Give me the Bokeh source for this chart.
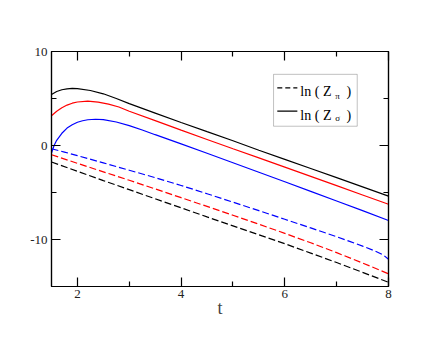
from bokeh.plotting import figure
from bokeh.models import (Range1d, FixedTicker, LinearAxis, CustomJSTickFormatter,
                          BoxAnnotation, Label)
from bokeh.embed import file_html
from bokeh.resources import INLINE

# ---- data ----
t_black = [1.5, 1.6, 1.7, 1.8, 1.9, 2.0, 2.25, 2.5, 2.75, 3.0, 3.5, 4.0, 4.5, 5.0, 5.5, 6.0, 6.5, 7.0, 7.5, 8.0]
sig_black = [5.43, 5.75, 5.93, 6.03, 6.07, 6.05, 5.85, 5.5, 5.0, 4.45, 3.45, 2.45, 1.47, 0.5, -0.5, -1.47, -2.45, -3.42, -4.4, -5.38]

t_red = [1.5, 1.6, 1.7, 1.8, 1.9, 2.0, 2.2, 2.4, 2.6, 2.8, 3.0, 3.5, 4.0, 4.5, 5.0, 5.5, 6.0, 6.5, 7.0, 7.5, 8.0]
sig_red = [3.17, 3.65, 4.02, 4.3, 4.5, 4.63, 4.72, 4.62, 4.4, 4.1, 3.65, 2.65, 1.63, 0.64, -0.35, -1.32, -2.3, -3.28, -4.27, -5.26, -6.25]

t_blue = [1.5, 1.55, 1.6, 1.7, 1.8, 1.9, 2.0, 2.1, 2.2, 2.35, 2.5, 2.75, 3.0, 3.25, 3.5, 4.0, 4.5, 5.0, 5.5, 6.0, 6.5, 7.0, 7.5, 8.0]
sig_blue = [-0.8, 0.0, 0.55, 1.3, 1.85, 2.2, 2.47, 2.63, 2.74, 2.79, 2.75, 2.5, 2.12, 1.65, 1.15, 0.17, -0.83, -1.84, -2.85, -3.86, -4.88, -5.9, -6.93, -7.98]

t_pi_blue = [1.5, 1.75, 2.0, 2.5, 3.0, 3.5, 4.0, 4.5, 5.0, 5.5, 6.0, 6.5, 7.0, 7.25, 7.5, 7.75, 7.9, 8.0]
pi_blue = [-0.35, -0.7, -1.08, -1.85, -2.63, -3.42, -4.25, -5.13, -6.03, -6.93, -7.85, -8.77, -9.7, -10.2, -10.7, -11.25, -11.65, -12.1]

t_pi = [1.5, 2.0, 2.5, 3.0, 3.5, 4.0, 4.5, 5.0, 5.5, 6.0, 6.5, 7.0, 7.5, 8.0]
pi_red = [-0.98, -1.9, -2.8, -3.7, -4.62, -5.55, -6.48, -7.42, -8.37, -9.35, -10.35, -11.4, -12.5, -13.65]
pi_black = [-1.76, -2.75, -3.73, -4.7, -5.67, -6.63, -7.6, -8.55, -9.5, -10.45, -11.45, -12.45, -13.5, -14.55]

x_major = [2, 4, 6, 8]
x_minor = [3, 5, 7]
y_major = [-10, 0, 10]
y_minor = [-5, 5]
y_tick_labels = ["-10", "0", "10"]

legend_labels = ["ln ( Z", "ln ( Z"]
legend_subs = ["\u03c0", "\u03c3"]

FONT = "Times New Roman"
LW = 1.2
DASH = "7 3"

p = figure(frame_width=337, frame_height=235, output_backend="svg",
           toolbar_location=None, x_range=Range1d(1.5, 8), y_range=Range1d(-15, 10),
           min_border_left=51, min_border_top=51, min_border_right=40, min_border_bottom=44)
p.background_fill_color = "white"
p.border_fill_color = "white"
p.xgrid.visible = False
p.ygrid.visible = False
p.outline_line_color = "black"
p.outline_line_width = 1.2

def style_axis(ax, ticks, minor, labels=True):
    ax.ticker = FixedTicker(ticks=ticks, minor_ticks=minor)
    ax.axis_line_color = "black"
    ax.axis_line_width = 1.2
    ax.major_tick_in = 9
    ax.major_tick_out = 0
    ax.minor_tick_in = 5
    ax.minor_tick_out = 0
    ax.major_tick_line_color = "black"
    ax.minor_tick_line_color = "black"
    ax.major_tick_line_width = 1.2
    ax.minor_tick_line_width = 1.2
    ax.major_label_text_font = FONT
    ax.major_label_text_font_size = "13px"
    ax.major_label_text_color = "#222222"
    if not labels:
        ax.formatter = CustomJSTickFormatter(code="return ''")
        ax.major_label_text_font_size = "1px"

style_axis(p.xaxis[0], x_major, x_minor)
style_axis(p.yaxis[0], y_major, y_minor)
p.yaxis[0].major_label_overrides = {v: s for v, s in zip(y_major, y_tick_labels)}
p.xaxis[0].major_label_standoff = 3
p.yaxis[0].major_label_standoff = 4
p.xaxis[0].axis_label = "t"
p.xaxis[0].axis_label_text_font = FONT
p.xaxis[0].axis_label_text_font_size = "18px"
p.xaxis[0].axis_label_text_font_style = "normal"
p.xaxis[0].axis_label_standoff = -3

top_ax = LinearAxis()
style_axis(top_ax, x_major, x_minor, labels=False)
p.add_layout(top_ax, "above")
right_ax = LinearAxis()
style_axis(right_ax, y_major, y_minor, labels=False)
p.add_layout(right_ax, "right")

# curves
p.line(t_black, sig_black, line_color="black", line_width=LW)
p.line(t_red, sig_red, line_color="red", line_width=LW)
p.line(t_blue, sig_blue, line_color="blue", line_width=LW)
p.line(t_pi_blue, pi_blue, line_color="blue", line_width=LW, line_dash=DASH)
p.line(t_pi, pi_red, line_color="red", line_width=LW, line_dash=DASH)
p.line(t_pi, pi_black, line_color="black", line_width=LW, line_dash=DASH)

# manual legend (positions in data units of the fixed ranges)
p.add_layout(BoxAnnotation(left=5.783, right=7.397, top=7.57, bottom=2.05,
                           fill_alpha=0.0,
                           line_color="#333333", line_width=1.0))
p.line([5.855, 6.242], [6.12, 6.12], line_color="black", line_width=LW, line_dash="5 3")
p.line([5.855, 6.242], [3.66, 3.66], line_color="black", line_width=LW)
for yb, ys, lab, sub in [(5.70, 5.30, legend_labels[0], legend_subs[0]),
                         (3.24, 2.88, legend_labels[1], legend_subs[1])]:
    p.add_layout(Label(x=6.30, y=yb, text=lab, text_font=FONT, text_font_size="14px",
                       text_baseline="alphabetic", text_color="black"))
    p.add_layout(Label(x=6.975, y=ys, text=sub, text_font=FONT, text_font_size="9px",
                       text_baseline="alphabetic", text_color="black"))
    p.add_layout(Label(x=7.19, y=yb, text=")", text_font=FONT, text_font_size="14px",
                       text_baseline="alphabetic", text_color="black"))

open("out.html", "w").write(file_html(p, INLINE))
